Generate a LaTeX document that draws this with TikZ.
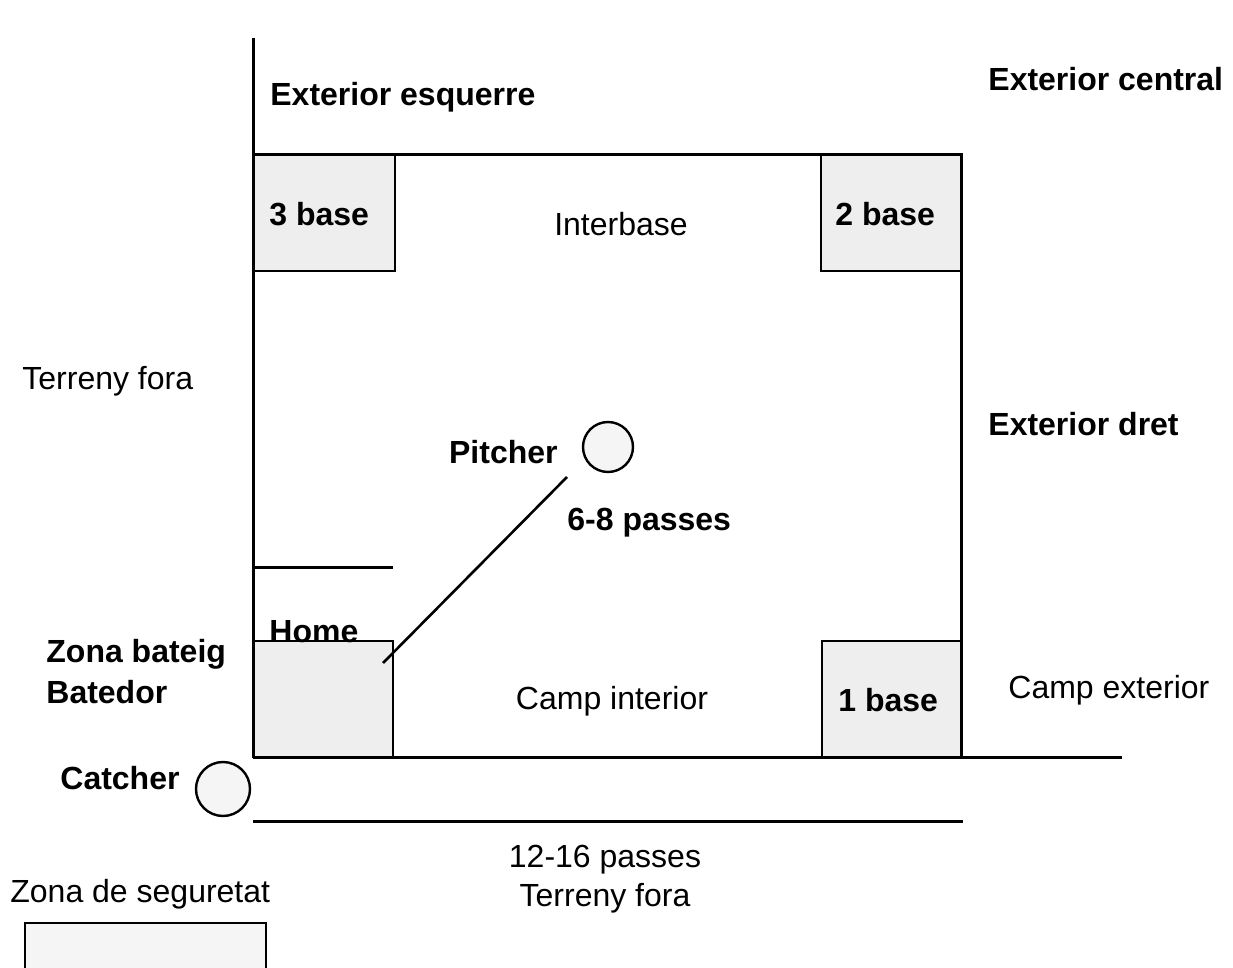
\documentclass[tikz,border=0pt]{standalone}
\usepackage{fontspec}
\setmainfont{Liberation Sans}
\begin{document}
\begin{tikzpicture}[x=0.5pt,y=-0.5pt,
  fieldline/.style={line width=1.5pt, black},
  basebox/.style={draw=black, line width=1.3pt, fill=gray!13},
  lbl/.style={font=\fontsize{16}{19}\selectfont, inner sep=0pt, yshift=-1.5pt},
  blbl/.style={font=\fontsize{16}{19}\selectfont\bfseries, inner sep=0pt, yshift=-1.5pt},
  player/.style={draw=black, line width=1.2pt, circle, fill=gray!8, minimum size=25pt, inner sep=0pt}]
\useasboundingbox (0,0) rectangle (1233,968);
\clip (0,0) rectangle (1233,968);
\fill[white] (0,0) rectangle (1233,968);
% bases
\draw[basebox] (253,155) rectangle (395,271);
\draw[basebox] (821,155) rectangle (961,271);
\draw[basebox] (253,641) rectangle (393,757);
\draw[basebox] (822,641) rectangle (962,757);
% field lines
\draw[fieldline] (253,38) -- (253,757);
\draw[fieldline] (253,155) -- (961,155) -- (961,757);
\draw[fieldline] (253,757) -- (1122,757);
\draw[fieldline] (253,821) -- (963,821);
\draw[fieldline] (253,567) -- (393,567);
% legend box
\draw[basebox, fill=gray!8] (25,923) rectangle (266,990);
% players
\node[player] (pitcher) at (608,447) {};
\node[player, minimum size=27pt] (catcher) at (223,789) {};
\coordinate (homecorner) at (383,663);
\coordinate (pitchend) at (567,477);
\draw[line width=1.3pt] (homecorner) -- (pitchend);
% labels
\node[blbl, anchor=west] (extesq) at (270,94) {Exterior esquerre};
\node[blbl, anchor=west] (extcen) at (988,76) {Exterior central};
\node[blbl, anchor=west] (b3) at (269,211) {3 base};
\node[lbl] (interbase) at (621,221) {Interbase};
\node[blbl, anchor=west] (b2) at (835,211) {2 base};
\node[lbl, anchor=west] (terfora1) at (22,378) {Terreny fora};
\node[blbl, anchor=west] (extdret) at (988,421) {Exterior dret};
\node[blbl, anchor=east] (pitchlbl) at (558,449) {Pitcher};
\node[blbl, anchor=west] (passes68) at (567,520) {6-8 passes};
\node[blbl, anchor=west] (home) at (269,629) {Home};
\node[blbl, anchor=west] (zona) at (46,651) {Zona bateig};
\node[blbl, anchor=west] (batedor) at (46,689) {Batedor};
\node[lbl] (campint) at (612,698) {Camp interior};
\node[blbl, anchor=west] (b1) at (838,697) {1 base};
\node[lbl, anchor=west] (campext) at (1008,687) {Camp exterior};
\node[blbl, anchor=west] (catchlbl) at (60,775) {Catcher};
\node[lbl] (passes1216) at (605,857) {12-16 passes};
\node[lbl] (terfora2) at (605,895) {Terreny fora};
\node[lbl, anchor=west] (seguretat) at (10,891) {Zona de seguretat};
\end{tikzpicture}
\end{document}
